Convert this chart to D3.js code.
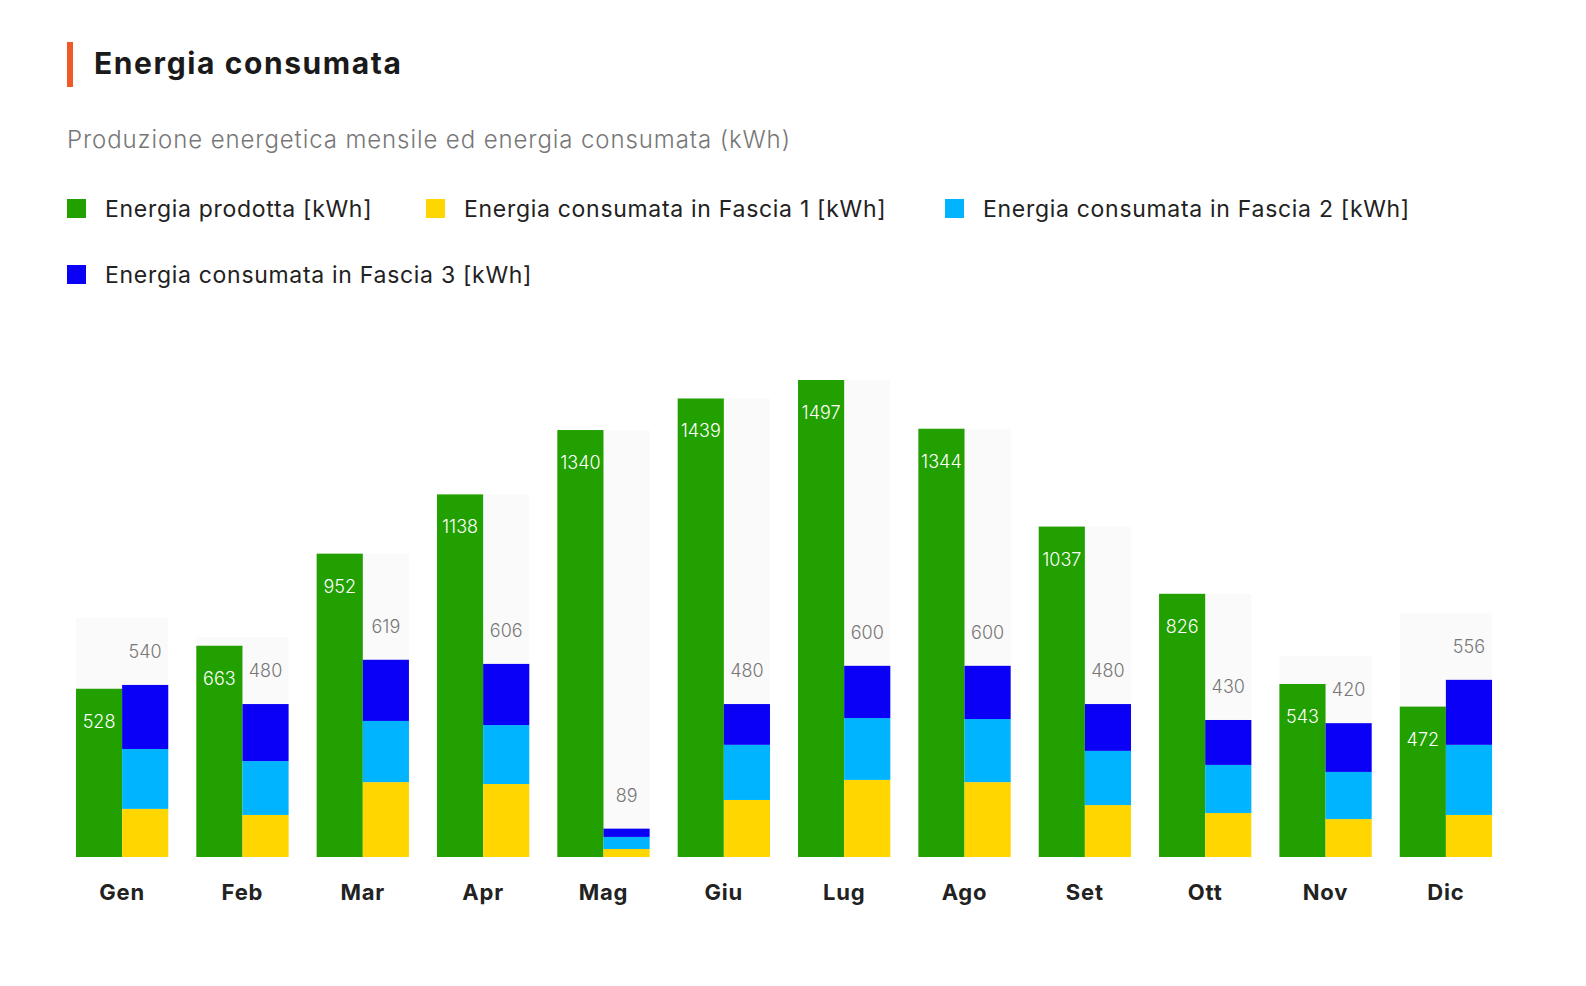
<!DOCTYPE html>
<html><head><meta charset="utf-8">
<script src="https://cdn.jsdelivr.net/npm/d3@7"></script>
<style>body{margin:0;background:#fff;font-family:Inter,"Open Sans",sans-serif}</style>
</head><body><svg id="chart" width="1586" height="986"></svg>
<script>
var months = ["Gen","Feb","Mar","Apr","Mag","Giu","Lug","Ago","Set","Ott","Nov","Dic"];
var prodotta = [528,663,952,1138,1340,1439,1497,1344,1037,826,543,472];
var consumata = [540,480,619,606,89,480,600,600,480,430,420,556];
var fascia1 = [151,132,235,229,25,179,242,235,163,138,119,132];
var fascia2 = [188,169,192,185,38,173,194,198,170,151,148,220];
var fascia3 = [201,179,192,192,26,128,164,167,147,141,153,204];
var seriesNames = ["Energia prodotta [kWh]","Energia consumata in Fascia 1 [kWh]","Energia consumata in Fascia 2 [kWh]","Energia consumata in Fascia 3 [kWh]"];
var colors = ["#21a000","#ffd600","#00b4ff","#0a00f5"];

var svg = d3.select("#chart");

svg.append("rect").attr("x",67).attr("y",42).attr("width",6).attr("height",45).attr("fill","#f05a28");
svg.append("text").attr("x",94).attr("y",74).text("Energia consumata")
  .attr("font-size",30).attr("font-weight",700).attr("letter-spacing",1.6).attr("fill","#1a1a1a");
svg.append("text").attr("x",67).attr("y",148).text("Produzione energetica mensile ed energia consumata (kWh)")
  .attr("font-size",24).attr("font-weight",300).attr("letter-spacing",0.9).attr("fill","#777");

// legend
var legPos = [[67,209],[426,209],[945,209],[67,275]];
seriesNames.forEach(function(n,i){
  var g = svg.append("g").attr("transform","translate("+legPos[i][0]+","+legPos[i][1]+")");
  g.append("rect").attr("x",0).attr("y",-10).attr("width",19).attr("height",19).attr("fill",colors[i]);
  g.append("text").attr("x",38).attr("y",8).text(n).attr("font-size",23).attr("letter-spacing",0.7).attr("fill","#222");
});

var base = 857;
var y = d3.scaleLinear().domain([0,1497]).range([base,380]);
var x0 = d3.scaleBand().domain(months).range([62,1506]).paddingInner(0.233).paddingOuter(0.116);
var x1 = d3.scaleBand().domain(["p","c"]).range([0,x0.bandwidth()]);

months.forEach(function(m,i){
  var g = svg.append("g").attr("transform","translate("+x0(m)+",0)");
  var pTop = y(prodotta[i]), cTop = y(consumata[i]);
  var bgTop = Math.min(pTop, cTop-67);
  g.append("rect").attr("x",0).attr("y",bgTop).attr("width",x0.bandwidth()).attr("height",base-bgTop).attr("fill","#fafafa");
  g.append("rect").attr("x",x1("p")).attr("y",pTop).attr("width",x1.bandwidth()).attr("height",base-pTop).attr("fill",colors[0]);
  var stack = [fascia1[i],fascia2[i],fascia3[i]], acc = 0;
  stack.forEach(function(v,k){
    g.append("rect").attr("x",x1("c")).attr("y",y(acc+v)).attr("width",x1.bandwidth())
      .attr("height",y(acc)-y(acc+v)).attr("fill",colors[k+1]);
    acc += v;
  });
  g.append("text").attr("x",x1("p")+x1.bandwidth()/2).attr("y",pTop+39).attr("text-anchor","middle")
    .attr("font-size",18).attr("font-weight",300).attr("fill","#fff").text(prodotta[i]);
  g.append("text").attr("x",x1("c")+x1.bandwidth()/2).attr("y",cTop-27).attr("text-anchor","middle")
    .attr("font-size",18).attr("font-weight",300).attr("fill","#777").text(consumata[i]);
  g.append("text").attr("x",x0.bandwidth()/2).attr("y",900).attr("text-anchor","middle")
    .attr("font-size",22).attr("font-weight",700).attr("letter-spacing",0.8).attr("fill","#222").text(m);
});
</script></body></html>
